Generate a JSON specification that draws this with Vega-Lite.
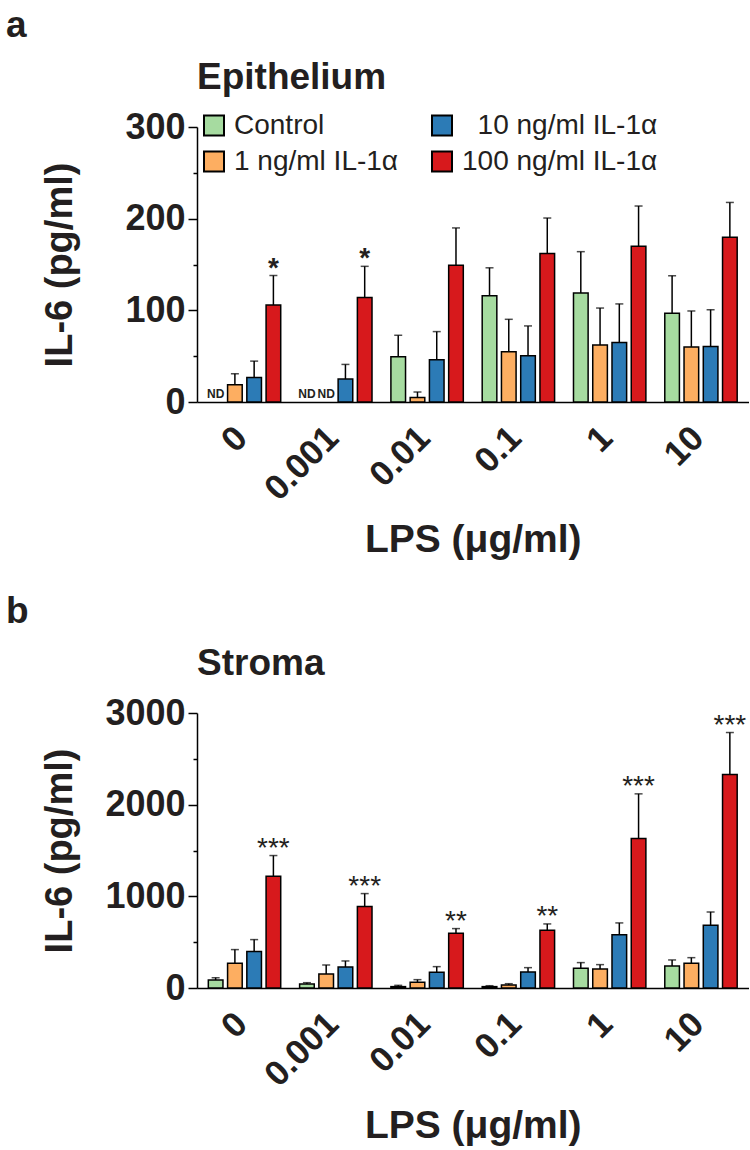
{
  "$schema": "https://vega.github.io/schema/vega-lite/v6.json",
  "padding": {"left": 5, "top": 7, "right": 0, "bottom": 0},
  "background": "white",
  "config": {
    "font": "Liberation Sans",
    "view": {"stroke": null},
    "axis": {"domainColor": "black", "domainWidth": 1.5, "tickColor": "black", "tickWidth": 1.5, "labelColor": "#231f20", "titleColor": "#231f20", "labelFontWeight": "bold", "titleFontWeight": "bold", "grid": false},
    "title": {"color": "#231f20", "fontWeight": "bold"},
    "legend": {"labelColor": "#231f20"}
  },
  "datasets": {
    "epi": [
      {"lps": "0", "trt": "Control", "mean": null, "upper": null, "sig": null, "nd": "ND"},
      {"lps": "0", "trt": "1 ng/ml IL-1α", "mean": 18.8, "upper": 30.8, "sig": null, "nd": null},
      {"lps": "0", "trt": "10 ng/ml IL-1α", "mean": 26.8, "upper": 44.6, "sig": null, "nd": null},
      {"lps": "0", "trt": "100 ng/ml IL-1α", "mean": 105.8, "upper": 138, "sig": "*", "nd": null},
      {"lps": "0.001", "trt": "Control", "mean": null, "upper": null, "sig": null, "nd": "ND"},
      {"lps": "0.001", "trt": "1 ng/ml IL-1α", "mean": null, "upper": null, "sig": null, "nd": "ND"},
      {"lps": "0.001", "trt": "10 ng/ml IL-1α", "mean": 25, "upper": 41, "sig": null, "nd": null},
      {"lps": "0.001", "trt": "100 ng/ml IL-1α", "mean": 114, "upper": 148, "sig": "*", "nd": null},
      {"lps": "0.01", "trt": "Control", "mean": 49.3, "upper": 72.8, "sig": null, "nd": null},
      {"lps": "0.01", "trt": "1 ng/ml IL-1α", "mean": 5, "upper": 10.9, "sig": null, "nd": null},
      {"lps": "0.01", "trt": "10 ng/ml IL-1α", "mean": 46, "upper": 76.8, "sig": null, "nd": null},
      {"lps": "0.01", "trt": "100 ng/ml IL-1α", "mean": 149.3, "upper": 189.9, "sig": null, "nd": null},
      {"lps": "0.1", "trt": "Control", "mean": 116, "upper": 146.4, "sig": null, "nd": null},
      {"lps": "0.1", "trt": "1 ng/ml IL-1α", "mean": 54.7, "upper": 90.2, "sig": null, "nd": null},
      {"lps": "0.1", "trt": "10 ng/ml IL-1α", "mean": 50.4, "upper": 83, "sig": null, "nd": null},
      {"lps": "0.1", "trt": "100 ng/ml IL-1α", "mean": 162, "upper": 200.7, "sig": null, "nd": null},
      {"lps": "1", "trt": "Control", "mean": 118.8, "upper": 164, "sig": null, "nd": null},
      {"lps": "1", "trt": "1 ng/ml IL-1α", "mean": 62.3, "upper": 102.5, "sig": null, "nd": null},
      {"lps": "1", "trt": "10 ng/ml IL-1α", "mean": 64.9, "upper": 107, "sig": null, "nd": null},
      {"lps": "1", "trt": "100 ng/ml IL-1α", "mean": 170, "upper": 213.8, "sig": null, "nd": null},
      {"lps": "10", "trt": "Control", "mean": 96.7, "upper": 137.7, "sig": null, "nd": null},
      {"lps": "10", "trt": "1 ng/ml IL-1α", "mean": 60.1, "upper": 99.3, "sig": null, "nd": null},
      {"lps": "10", "trt": "10 ng/ml IL-1α", "mean": 60.5, "upper": 100.7, "sig": null, "nd": null},
      {"lps": "10", "trt": "100 ng/ml IL-1α", "mean": 179.7, "upper": 217.7, "sig": null, "nd": null}
    ],
    "str": [
      {"lps": "0", "trt": "Control", "mean": 87, "upper": 113, "sig": null},
      {"lps": "0", "trt": "1 ng/ml IL-1α", "mean": 269, "upper": 419, "sig": null},
      {"lps": "0", "trt": "10 ng/ml IL-1α", "mean": 397, "upper": 528, "sig": null},
      {"lps": "0", "trt": "100 ng/ml IL-1α", "mean": 1219, "upper": 1445, "sig": "***"},
      {"lps": "0.001", "trt": "Control", "mean": 44, "upper": 58, "sig": null},
      {"lps": "0.001", "trt": "1 ng/ml IL-1α", "mean": 153, "upper": 251, "sig": null},
      {"lps": "0.001", "trt": "10 ng/ml IL-1α", "mean": 229, "upper": 295, "sig": null},
      {"lps": "0.001", "trt": "100 ng/ml IL-1α", "mean": 888, "upper": 1030, "sig": "***"},
      {"lps": "0.01", "trt": "Control", "mean": 15, "upper": 29, "sig": null},
      {"lps": "0.01", "trt": "1 ng/ml IL-1α", "mean": 62, "upper": 91, "sig": null},
      {"lps": "0.01", "trt": "10 ng/ml IL-1α", "mean": 171, "upper": 233, "sig": null},
      {"lps": "0.01", "trt": "100 ng/ml IL-1α", "mean": 597, "upper": 648, "sig": "**"},
      {"lps": "0.1", "trt": "Control", "mean": 15, "upper": 25, "sig": null},
      {"lps": "0.1", "trt": "1 ng/ml IL-1α", "mean": 33, "upper": 47, "sig": null},
      {"lps": "0.1", "trt": "10 ng/ml IL-1α", "mean": 175, "upper": 222, "sig": null},
      {"lps": "0.1", "trt": "100 ng/ml IL-1α", "mean": 630, "upper": 699, "sig": "**"},
      {"lps": "1", "trt": "Control", "mean": 215, "upper": 277, "sig": null},
      {"lps": "1", "trt": "1 ng/ml IL-1α", "mean": 207, "upper": 255, "sig": null},
      {"lps": "1", "trt": "10 ng/ml IL-1α", "mean": 582, "upper": 710, "sig": null},
      {"lps": "1", "trt": "100 ng/ml IL-1α", "mean": 1630, "upper": 2118, "sig": "***"},
      {"lps": "10", "trt": "Control", "mean": 240, "upper": 306, "sig": null},
      {"lps": "10", "trt": "1 ng/ml IL-1α", "mean": 269, "upper": 331, "sig": null},
      {"lps": "10", "trt": "10 ng/ml IL-1α", "mean": 684, "upper": 830, "sig": null},
      {"lps": "10", "trt": "100 ng/ml IL-1α", "mean": 2329, "upper": 2787, "sig": "***"}
    ]
  },
  "spacing": 33,
  "vconcat": [
    {
      "title": {"text": "a", "anchor": "start", "frame": "bounds", "fontSize": 37, "dx": -36, "offset": 14},
      "vconcat": [
        {
          "width": 551.5,
          "height": 275,
          "title": {"text": "Epithelium", "anchor": "start", "frame": "group", "fontSize": 37, "offset": 12},
          "data": {"name": "epi"},
          "encoding": {
            "x": {"field": "lps", "type": "nominal", "sort": ["0", "0.001", "0.01", "0.1", "1", "10"],
              "scale": {"paddingInner": 0.207, "paddingOuter": 0.124},
              "axis": {"title": "LPS (μg/ml)", "labelAngle": -45, "labelFontSize": 35, "labelOffset": -15, "ticks": false, "tickSize": 0, "labelPadding": 18, "titleFontSize": 39, "titlePadding": 14}},
            "xOffset": {"field": "trt", "type": "nominal", "sort": ["Control", "1 ng/ml IL-1α", "10 ng/ml IL-1α", "100 ng/ml IL-1α"], "scale": {"paddingInner": 0.24}}
          },
          "layer": [
            {
              "mark": {"type": "bar", "stroke": "black", "strokeWidth": 1.5},
              "encoding": {
                "y": {"field": "mean", "type": "quantitative", "title": "IL-6 (pg/ml)", "scale": {"domain": [0, 300], "nice": false},
                  "axis": {"values": [0, 50, 100, 150, 200, 250, 300], "labelExpr": "datum.value % 100 === 0 ? datum.label : ''",
                    "tickSize": {"condition": {"test": "datum.value % 100 === 0", "value": 9}, "value": 4},
                    "labelFontSize": 36, "labelPadding": 3, "titleFontSize": 38, "titlePadding": 45}},
                "color": {"field": "trt", "type": "nominal",
                  "scale": {"domain": ["Control", "1 ng/ml IL-1α", "10 ng/ml IL-1α", "100 ng/ml IL-1α"], "range": ["#a6dba0", "#fdae61", "#2c7bb6", "#d7191c"]},
                  "legend": {"orient": "none", "legendX": 3, "legendY": -15.5, "columns": 2, "title": null, "symbolType": "square", "symbolSize": 400, "symbolStrokeColor": "black", "symbolStrokeWidth": 2, "labelFontSize": 28, "labelLimit": 400, "labelOffset": 6, "columnPadding": 29, "rowPadding": 8, "padding": 0,
                    "labelExpr": "indexof(datum.label, '10 ng') === 0 ? '\u200b\u00a0\u00a0' + datum.label : datum.label"}}
              }
            },
            {
              "mark": {"type": "rule", "strokeWidth": 1.5, "color": "black"},
              "encoding": {"y": {"field": "mean", "type": "quantitative", "title": "IL-6 (pg/ml)"}, "y2": {"field": "upper"}}
            },
            {
              "mark": {"type": "tick", "size": 8, "thickness": 1.5, "color": "black"},
              "encoding": {"y": {"field": "upper", "type": "quantitative", "title": "IL-6 (pg/ml)"}}
            },
            {
              "transform": [{"filter": "datum.sig"}],
              "mark": {"type": "text", "fontSize": 28, "fontWeight": "bold", "baseline": "alphabetic", "dy": 1, "color": "#231f20"},
              "encoding": {"y": {"field": "upper", "type": "quantitative", "title": "IL-6 (pg/ml)"}, "text": {"field": "sig"}}
            },
            {
              "transform": [{"filter": "datum.nd"}],
              "mark": {"type": "text", "fontSize": 12, "fontWeight": "bold", "baseline": "alphabetic", "dy": -4, "color": "#231f20"},
              "encoding": {"y": {"datum": 0, "type": "quantitative"}, "text": {"field": "nd"}}
            }
          ]
        }
      ]
    },
    {
      "title": {"text": "b", "anchor": "start", "frame": "bounds", "fontSize": 37, "dx": -36, "offset": 14},
      "vconcat": [
        {
          "width": 551.5,
          "height": 275,
          "title": {"text": "Stroma", "anchor": "start", "frame": "group", "fontSize": 37, "offset": 12},
          "data": {"name": "str"},
          "encoding": {
            "x": {"field": "lps", "type": "nominal", "sort": ["0", "0.001", "0.01", "0.1", "1", "10"],
              "scale": {"paddingInner": 0.207, "paddingOuter": 0.124},
              "axis": {"title": "LPS (μg/ml)", "labelAngle": -45, "labelFontSize": 35, "labelOffset": -15, "ticks": false, "tickSize": 0, "labelPadding": 18, "titleFontSize": 39, "titlePadding": 14}},
            "xOffset": {"field": "trt", "type": "nominal", "sort": ["Control", "1 ng/ml IL-1α", "10 ng/ml IL-1α", "100 ng/ml IL-1α"], "scale": {"paddingInner": 0.24}}
          },
          "layer": [
            {
              "mark": {"type": "bar", "stroke": "black", "strokeWidth": 1.5},
              "encoding": {
                "y": {"field": "mean", "type": "quantitative", "title": "IL-6 (pg/ml)", "scale": {"domain": [0, 3000], "nice": false},
                  "axis": {"values": [0, 500, 1000, 1500, 2000, 2500, 3000], "format": "d", "labelExpr": "datum.value % 1000 === 0 ? datum.label : ''",
                    "tickSize": {"condition": {"test": "datum.value % 1000 === 0", "value": 9}, "value": 4},
                    "labelFontSize": 36, "labelPadding": 3, "titleFontSize": 38, "titlePadding": 25}},
                "color": {"field": "trt", "type": "nominal",
                  "scale": {"domain": ["Control", "1 ng/ml IL-1α", "10 ng/ml IL-1α", "100 ng/ml IL-1α"], "range": ["#a6dba0", "#fdae61", "#2c7bb6", "#d7191c"]},
                  "legend": {"orient": "none", "legendX": 3, "legendY": -15.5, "columns": 2, "title": null, "symbolType": "square", "symbolSize": 400, "symbolStrokeColor": "black", "symbolStrokeWidth": 2, "labelFontSize": 28, "labelLimit": 400, "labelOffset": 6, "columnPadding": 29, "rowPadding": 8, "padding": 0,
                    "labelExpr": "indexof(datum.label, '10 ng') === 0 ? '\u200b\u00a0\u00a0' + datum.label : datum.label"}}
              }
            },
            {
              "mark": {"type": "rule", "strokeWidth": 1.5, "color": "black"},
              "encoding": {"y": {"field": "mean", "type": "quantitative", "title": "IL-6 (pg/ml)"}, "y2": {"field": "upper"}}
            },
            {
              "mark": {"type": "tick", "size": 8, "thickness": 1.5, "color": "black"},
              "encoding": {"y": {"field": "upper", "type": "quantitative", "title": "IL-6 (pg/ml)"}}
            },
            {
              "transform": [{"filter": "datum.sig"}],
              "mark": {"type": "text", "fontSize": 28, "baseline": "alphabetic", "dy": 1, "color": "#231f20"},
              "encoding": {"y": {"field": "upper", "type": "quantitative", "title": "IL-6 (pg/ml)"}, "text": {"field": "sig"}}
            }
          ]
        }
      ]
    }
  ]
}
